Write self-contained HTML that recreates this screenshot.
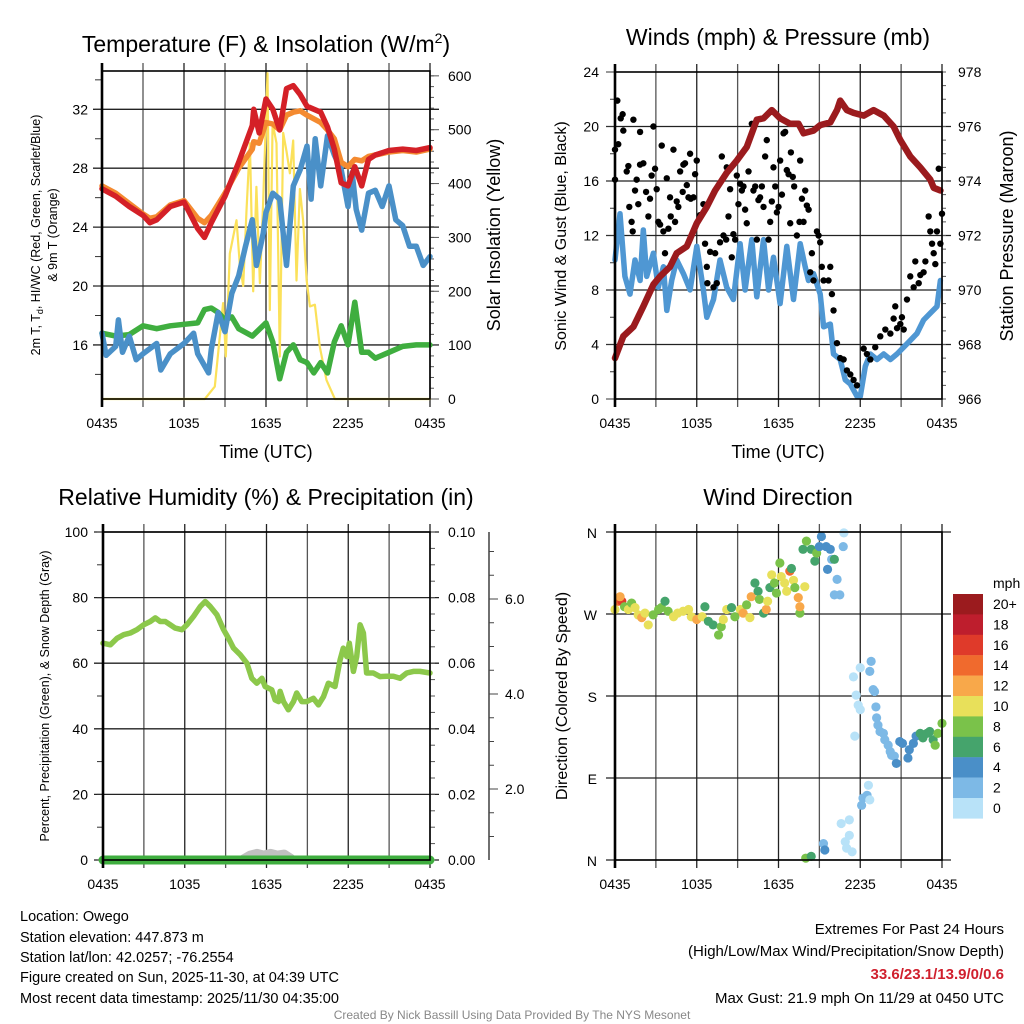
<!DOCTYPE html>
<html><head><meta charset="utf-8"><title>Owego Mesonet Meteogram</title>
<style>
html,body{margin:0;padding:0;background:#fff;}
svg{display:block;font-family:"Liberation Sans",Arial,sans-serif;}
</style></head>
<body>
<svg id="chart" width="1024" height="1024" viewBox="0 0 1024 1024" xmlns="http://www.w3.org/2000/svg">
<rect x="0" y="0" width="1024" height="1024" fill="#fff"/>
<g id="layer"></g>
<text x="266" y="52" font-size="23" text-anchor="middle">Temperature (F) &amp; Insolation (W/m<tspan font-size="14" dy="-9">2</tspan><tspan dy="9">)</tspan></text>
<text x="778" y="45" font-size="23" text-anchor="middle">Winds (mph) &amp; Pressure (mb)</text>
<text x="266" y="505" font-size="23" text-anchor="middle">Relative Humidity (%) &amp; Precipitation (in)</text>
<text x="778" y="505" font-size="23" text-anchor="middle">Wind Direction</text>
<text x="266" y="458" font-size="18" text-anchor="middle">Time (UTC)</text>
<text x="778" y="458" font-size="18" text-anchor="middle">Time (UTC)</text>
<text transform="translate(40,235) rotate(-90)" font-size="12.5" text-anchor="middle">2m T, T<tspan font-size="9" dy="3">d</tspan><tspan dy="-3">, HI/WC (Red, Green, Scarlet/Blue)</tspan></text>
<text transform="translate(57,235) rotate(-90)" font-size="12.5" text-anchor="middle">&amp; 9m T (Orange)</text>
<text transform="translate(500,235) rotate(-90)" font-size="18" text-anchor="middle">Solar Insolation (Yellow)</text>
<text transform="translate(566,236) rotate(-90)" font-size="16" text-anchor="middle">Sonic Wind &amp; Gust (Blue, Black)</text>
<text transform="translate(1013,236) rotate(-90)" font-size="18" text-anchor="middle">Station Pressure (Maroon)</text>
<text transform="translate(49,696) rotate(-90)" font-size="12.5" text-anchor="middle">Percent, Precipitation (Green), &amp; Snow Depth (Gray)</text>
<text transform="translate(567,696) rotate(-90)" font-size="16" text-anchor="middle">Direction (Colored By Speed)</text>
<g font-size="14.5">
<text x="20" y="921">Location: Owego</text>
<text x="20" y="942">Station elevation: 447.873 m</text>
<text x="20" y="962">Station lat/lon: 42.0257; -76.2554</text>
<text x="20" y="982">Figure created on Sun, 2025-11-30, at 04:39 UTC</text>
<text x="20" y="1003">Most recent data timestamp: 2025/11/30 04:35:00</text>
</g>
<g font-size="15" text-anchor="end">
<text x="1004" y="934">Extremes For Past 24 Hours</text>
<text x="1004" y="956">(High/Low/Max Wind/Precipitation/Snow Depth)</text>
<text x="1004" y="979" fill="#d0202e" font-weight="bold">33.6/23.1/13.9/0/0.6</text>
<text x="1004" y="1003">Max Gust: 21.9 mph On 11/29 at 0450 UTC</text>
</g>
<text x="512" y="1019" font-size="12" fill="#888" text-anchor="middle">Created By Nick Bassill Using Data Provided By The NYS Mesonet</text>
</svg>
<script>
const xTickLabels = ["0435","1035","1635","2235","0435"];
const tempHours = [0,1,2,3,3.5,4,5,6,7,7.5,8,9,10,11,11.1,11.5,12,12.5,13,13.5,14,14.5,15,16,16.5,17,17.5,18,18.5,19,19.5,20,21,22,23,24];
const temp2m = [26.6,26.1,25.4,24.8,24.3,24.5,25.4,25.7,23.9,23.3,24.3,26.1,28.4,30.9,32,30.4,32.7,32.0,30.6,33.4,33.6,33.0,32.2,31.8,30.8,29.3,27.0,26.8,28.1,26.8,28.6,28.9,29.2,29.3,29.2,29.4];
const temp9m = [26.8,26.3,25.6,24.9,24.6,24.7,25.5,25.8,24.6,24.3,24.8,26.3,28.0,29.3,29.8,29.7,31.1,31.0,30.6,31.6,31.8,31.9,31.6,31.1,30.6,30.0,28.4,28.1,28.6,28.5,28.8,28.9,29.1,29.2,29.1,29.3];
const dewHours = [0,0.3,1,1.2,1.5,2,2.5,3,4,4.3,5,6,6.7,7,7.8,8,8.5,9,9.5,10,10.5,11,11.3,11.8,12,12.5,13,13.5,14,14.5,15,15.3,15.6,16,16.5,17,17.5,18,18.3,18.6,19,19.5,20,20.5,21,21.5,22,22.5,23,23.5,24];
const dewValues = [16.8,15.3,15.9,17.7,15.5,16.6,15,15.4,16.1,14.3,15.4,16.1,16.8,15.4,14.1,15.7,18.2,16.9,19.5,20.7,22.7,24.5,21.4,23.6,25,26.3,25.9,21.4,26.8,27.9,29.5,25.9,30,26.8,30.2,28.9,27.9,25.4,27.7,25.2,23.8,26.3,26.5,25.4,26.8,24.5,24.1,22.7,22.7,21.4,22];
const wcHours = [0,1,2,3,4,5,6,7,7.5,8,8.5,9,9.5,10,11,12,12.5,13,13.5,14,14.5,15,15.5,16,16.5,17,17.5,18,18.5,19,19.5,20,21,22,23,24];
const wcValues = [16.8,16.6,16.7,17.3,17.1,17.3,17.4,17.5,18.4,18.5,18.2,17.7,17.9,17.1,16.6,17.5,16.2,13.7,15.5,16,15,14.8,14.1,14.8,14.1,16.2,17.3,16,18.9,15.5,15.5,15.1,15.5,15.9,16,16];
const solarHours = [0,7.52,8.25,8.62,8.86,9.06,9.35,9.84,10.08,10.33,10.57,10.82,11.06,11.3,11.55,11.79,12.11,12.28,12.48,12.77,13.01,13.26,13.5,13.75,13.99,14.23,14.48,14.72,14.97,15.21,15.58,15.94,16.43,17.04,24];
const solarValues = [0,0,23,116,178,79,270,332,250,210,350,475,200,394,215,363,605,165,512,475,79,494,460,419,480,220,390,330,221,172,175,97,35,0,0];
const tempTicks = [16,20,24,28,32];
const solarTicks = [0,100,200,300,400,500,600];
const presHours = [0,0.61,1.35,2.08,2.82,3.31,4.04,4.53,5.27,6.0,6.74,7.35,8.2,8.94,9.67,10.41,10.9,11.51,12.12,12.86,13.47,13.84,14.57,15.06,15.8,16.29,16.53,17.02,17.51,18.25,18.98,19.72,20.45,20.94,21.67,22.41,23.14,23.39,23.88];
const presValues = [967.5,968.3,968.65,969.4,970.2,970.5,970.85,971.35,971.6,972.45,973.05,973.65,974.3,974.75,975.25,976.25,976.3,976.6,976.3,976.1,976.1,975.75,975.85,976.05,976.15,976.6,976.95,976.6,976.5,976.4,976.6,976.4,976.0,975.5,974.9,974.5,974.05,973.75,973.65];
const windHours = [0,0.37,0.73,1.1,1.47,1.84,2.08,2.33,2.82,3.18,3.55,3.8,4.16,4.53,5.02,5.51,6.0,6.49,6.74,7.23,7.71,8.2,8.69,9.18,9.55,10.04,10.41,10.9,11.27,11.63,12.12,12.61,13.1,13.59,13.96,14.2,14.57,15.06,15.31,15.8,16.04,16.53,16.9,17.27,17.76,18.0,18.37,18.74,19.23,19.72,20.21,20.7,21.19,21.67,22.16,22.65,23.14,23.63,23.88];
const windValues = [10.2,13.6,9.0,7.7,10.2,8.7,12.4,9.0,10.7,8.2,9.7,6.5,8.7,10.2,9.2,8.0,11.2,8.0,6.0,7.3,10.2,8.2,7.3,11.4,8.0,11.7,7.5,11.7,8.0,10.4,7.0,11.2,7.3,11.4,9.7,8.7,9.2,7.7,5.3,5.5,3.3,2.9,1.4,1.1,0.2,0.2,2.4,3.3,2.9,3.3,2.9,3.3,3.8,4.3,4.8,5.8,6.3,6.8,8.7];
const gustHours = [0,0,0.17,0.24,0.42,0.56,0.61,0.86,0.98,1.05,1.22,1.3,1.35,1.47,1.59,1.71,1.84,1.84,2.08,2.28,2.45,2.57,2.69,2.82,2.94,3.06,3.18,3.31,3.43,3.55,3.67,3.8,3.92,4.04,4.09,4.29,4.41,4.53,4.65,4.78,4.97,5.02,5.14,5.27,5.39,5.51,5.56,5.76,5.88,6.0,6.25,6.49,6.61,6.74,6.78,6.98,7.23,7.35,7.47,7.71,7.84,7.96,8.16,8.2,8.33,8.45,8.57,8.69,8.82,8.94,9.06,9.18,9.31,9.43,9.55,9.67,9.8,10.04,10.16,10.29,10.41,10.53,10.65,10.78,10.9,11.02,11.14,11.27,11.39,11.51,11.63,11.76,11.88,12.0,12.12,12.25,12.37,12.49,12.61,12.74,12.86,12.91,13.05,13.15,13.35,13.54,13.59,13.72,13.84,13.96,14.08,14.21,14.33,14.45,14.57,14.82,14.94,15.06,15.18,15.31,15.67,15.8,15.92,16.04,16.29,16.53,16.78,17.02,17.27,17.51,17.76,18.25,18.49,18.74,19.1,19.47,19.84,20.21,20.45,20.57,20.7,20.94,21.06,21.19,21.43,21.67,21.92,22.04,22.29,22.41,22.65,22.78,23.02,23.14,23.27,23.39,23.51,23.63,23.76,23.88,24.0];
const gustValues = [18.3,16.1,21.9,18.7,20.6,20.9,19.7,16.7,17.1,14.1,13.0,12.3,20.5,15.3,16.1,14.3,19.6,17.2,17.3,15.2,13.4,14.7,16.4,20.0,16.9,15.4,13.0,12.8,18.6,12.3,10.7,16.2,12.5,14.8,13.4,18.3,13.0,14.5,14.1,16.7,15.2,17.2,17.3,15.7,14.8,18.0,14.7,14.8,16.5,17.5,13.5,14.3,11.4,9.7,8.5,10.8,8.2,10.7,8.5,11.5,17.8,12.0,11.7,17.0,13.4,15.4,10.4,12.1,11.7,16.4,14.3,15.8,15.3,15.6,13.9,12.9,16.7,20.2,15.3,15.6,11.7,14.6,14.8,15.6,14.1,17.8,19.0,11.7,13.0,14.5,17.0,15.6,13.7,14.1,17.5,15.0,19.5,19.6,16.8,16.5,12.9,18.1,16.3,15.6,12.0,13.0,17.5,14.7,13.0,15.3,14.2,13.9,9.3,10.7,8.7,12.3,12.0,11.5,9.7,8.7,8.7,9.7,7.7,6.5,4.1,3.0,2.9,2.1,1.8,1.4,1.0,3.7,3.3,2.9,3.8,4.6,5.1,4.8,5.9,6.8,5.2,5.5,6.0,5.1,7.3,9.0,8.2,10.1,8.5,9.1,9.3,10.1,13.4,12.3,11.4,10.7,9.9,12.3,16.9,11.4,13.6];
const windTicks = [0,4,8,12,16,20,24];
const presTicks = [966,968,970,972,974,976,978];
const rhHours = [0,0.54,1.03,1.52,2.0,2.49,2.98,3.47,3.84,4.2,4.57,4.94,5.3,5.79,6.16,6.65,7.14,7.5,7.87,8.36,8.85,9.21,9.58,10.07,10.56,10.92,11.29,11.66,11.9,12.39,12.63,12.88,13.0,13.25,13.61,13.98,14.22,14.59,14.96,15.44,15.81,16.18,16.54,17.03,17.4,17.64,17.89,18.08,18.38,18.62,18.87,19.11,19.35,19.84,20.33,20.82,21.31,21.8,22.29,22.78,23.26,24];
const rhValues = [66.1,65.6,67.6,68.7,69.2,70.2,71.7,72.7,73.8,72.7,72.7,71.7,70.7,70.2,71.7,74.3,77.3,78.8,77.3,74.8,70.2,67.6,64.6,62.6,60.0,55.4,53.9,55.4,52.9,51.9,48.8,48.3,51.4,48.3,45.8,48.3,50.9,48.3,48.3,49.3,47.3,49.8,53.9,52.9,61.0,64.6,62.0,66.1,57.5,62.0,71.7,69.2,57.0,57.0,55.9,56.0,56.0,55.4,57.0,57.5,57.5,57.0];
const precipHours = [0,24];
const precipValues = [0,0];
const snowHours = [10.3,10.8,11.3,11.8,12.3,12.8,13.3,13.8];
const snowValues = [0.3,1.5,2.0,1.5,2.0,1.5,1.8,0.5];
const rhTicks = [0,20,40,60,80,100];
const precipTicks = ["0.00","0.02","0.04","0.06","0.08","0.10"];
const snowTicks = ["2.0","4.0","6.0"];
const dirHours = [0,0.25,0.5,0.37,0.7,0.98,1.22,1.47,1.7,1.96,2.2,2.44,2.8,3.2,3.4,3.67,3.9,4.3,4.6,5.0,5.4,5.6,6.0,6.4,6.6,6.85,7.2,7.6,7.8,7.95,8.2,8.55,8.8,9.2,9.4,9.66,9.9,10.0,10.27,10.5,10.6,10.9,11.1,11.2,11.37,11.5,11.7,11.85,12.1,12.2,12.45,12.6,12.83,12.95,13.1,13.2,13.45,13.57,13.57,13.93,13.8,14.05,14.4,14.67,14.8,15.0,15.15,15.5,15.8,15.9,16.1,15.6,16.3,16.1,16.5,16.75,16.8,14.0,14.4,15.3,15.4,16.6,17.2,16.9,17.0,17.4,17.2,18.1,18.2,18.5,18.6,18.7,17.5,17.7,17.85,18.0,17.6,18.0,18.7,18.8,18.95,19.05,19.15,19.2,19.3,19.45,19.7,19.8,20.05,20.2,20.3,20.5,20.65,20.9,21.1,21.5,21.6,21.9,22.1,22.4,22.6,22.9,23.1,23.35,23.5,23.7,24.0];
const dirDegrees = [275,284,284,289,278,275,282,277,269,266,271,258,269,275,277,284,273,267,271,273,275,267,264,267,278,262,258,247,256,264,275,277,267,275,271,280,266,289,304,295,286,271,275,284,299,313,304,293,326,311,304,295,317,320,307,299,288,271,278,300,341,350,341,328,337,344,355,344,341,330,330,319,308,291,291,344,359,2,4,18,11,40,44,20,13,9,27,60,68,71,82,66,201,181,170,165,136,211,207,218,187,185,168,156,148,141,139,132,126,119,115,114,106,130,128,112,121,128,136,139,134,139,141,132,126,139,150];
const dirSpeeds = [10,14,16,12,8,10,8,10,10,12,10,10,8,8,8,6,8,10,10,10,10,10,12,10,6,6,6,8,8,10,10,6,8,10,12,8,10,12,6,6,8,6,12,10,6,10,8,8,8,10,10,10,14,6,10,8,12,8,12,10,6,8,6,6,8,4,4,4,4,2,6,4,2,2,2,2,0,8,6,2,4,0,0,0,0,0,0,2,2,2,0,0,0,0,0,0,0,0,2,2,2,2,2,2,2,2,2,2,2,2,2,2,4,4,4,4,4,4,4,6,6,6,6,6,8,8,8];
const speedLabels = ["20+","18","16","14","12","10","8","6","4","2","0"];
const speedColors = ["#9b1b1e","#be1e2d","#df3a2a","#f06a2d","#f8a84a","#e8e05a","#7ac24a","#45a46c","#4a8fc8","#7db9e6","#b8e2f8"];
const dirLabels = ["N","E","S","W","N"];
const dirTicks = [0,90,180,270,360];

const NS = "http://www.w3.org/2000/svg";
const layer = document.getElementById("layer");
function mk(tag, attrs, parent){
  const e = document.createElementNS(NS, tag);
  for (const k in attrs) e.setAttribute(k, attrs[k]);
  (parent || layer).appendChild(e);
  return e;
}
const P1 = {l:102,r:430,t:71,b:399};
const P2 = {l:615,r:942,t:72,b:399};
const P3 = {l:103,r:430,t:532,b:860};
const P4 = {l:615,r:942,t:532,b:860};
function xOf(P,h){ return P.l + h/24*(P.r-P.l); }
function lin(P,lo,hi){ return v => P.b - (v-lo)/(hi-lo)*(P.b-P.t); }
const yTemp = lin(P1,12.33,34.6);
const ySolar = lin(P1,0,609);
const yWind = lin(P2,0,24);
const yPres = lin(P2,966,978);
const yRH = lin(P3,0,100);
const yPrecip = lin(P3,0,0.1);
const ySnow = v => 884 - v*47.5;
const yDir = lin(P4,0,360);

function grid(P, name){
  const g = mk("g",{});
  
  
  for (let h=0; h<=24; h+=3){
    const x = xOf(P,h);
    mk("line",{x1:x,x2:x,y1:P.t-8,y2:P.b+8,stroke:(h%6===0)?"#222":"#555","stroke-width":1.3},g);
  }
  for (let i=0;i<xTickLabels.length;i++){
    const t = mk("text",{x:xOf(P,i*6),y:P.b+29,"font-size":14,"text-anchor":"middle"},g);
    t.textContent = xTickLabels[i];
    
    
  }
  return g;
}
function hline(P,y,g,col){ mk("line",{x1:P.l-9,x2:P.r+9,y1:y,y2:y,stroke:col||"#222","stroke-width":1.3},g); }
function frame(P,name){
  const f = mk("rect",{x:P.l,y:P.t,width:P.r-P.l,height:P.b-P.t,fill:"none",stroke:"#000","stroke-width":1.6});
  
  
  mk("line",{x1:P.l,x2:P.l,y1:P.t-8,y2:P.b+8,stroke:"#000","stroke-width":2.6});
}
function leftTicks(P,scale,lo,hi,step,len,g){
  for (let v=lo; v<=hi+1e-9; v+=step){ const y=scale(v); if(y<P.t-1||y>P.b+1) continue; mk("line",{x1:P.l-len,x2:P.l,y1:y,y2:y,stroke:"#333","stroke-width":1},g); }
}
function rightTicks(P,scale,lo,hi,step,len,g){
  for (let v=lo; v<=hi+1e-9; v+=step){ const y=scale(v); if(y<P.t-1||y>P.b+1) continue; mk("line",{x1:P.r,x2:P.r+len,y1:y,y2:y,stroke:"#555","stroke-width":1},g); }
}
function label(x,y,txt,anchor,name,size){
  const t = mk("text",{x:x,y:y,"font-size":size||14,"text-anchor":anchor});
  t.textContent = txt;
  
  
  return t;
}
function pathFrom(xs, ys){ return xs.map((x,i)=>(i?"L":"M")+x.toFixed(1)+","+ys[i].toFixed(1)).join(""); }
function series(P, hours, vals, scale, color, width, name){
  const p = mk("path",{d:pathFrom(hours.map(h=>xOf(P,h)), vals.map(scale)),fill:"none",stroke:color,"stroke-width":width,"stroke-linejoin":"round","stroke-linecap":"round"});
  
  
  return p;
}

{
  const g = grid(P1,'temperature');
  tempTicks.forEach(v=>{ hline(P1,yTemp(v),g); label(P1.l-14,yTemp(v)+5,String(v),"end",'temperature-y-tick-label'); });
  leftTicks(P1,yTemp,14,34,2,7,g);
  solarTicks.forEach(v=>{ label(P1.r+18,ySolar(v)+5,String(v),"start",'insolation-tick-label'); });
  rightTicks(P1,ySolar,0,600,20,4,g);
  rightTicks(P1,ySolar,0,600,100,9,g);
  series(P1,solarHours,solarValues,ySolar,"#fbe15a",2.2,'insolation-line');
  series(P1,wcHours,wcValues,yTemp,"#3fae3f",5.5,'heat-index-windchill-line');
  series(P1,dewHours,dewValues,yTemp,"#4a90c8",5.5,'dewpoint-line');
  series(P1,tempHours,temp9m,yTemp,"#f48a30",5.5,'temperature-9m-line');
  series(P1,tempHours,temp2m,yTemp,"#d42027",5.5,'temperature-2m-line');
  frame(P1,'temperature');
}
{
  const g = grid(P2,'winds');
  windTicks.forEach(v=>{ if(v>0&&v<24) hline(P2,yWind(v),g); label(P2.l-16,yWind(v)+5,String(v),"end",'wind-y-tick-label'); });
  leftTicks(P2,yWind,0,24,2,5,g);
  leftTicks(P2,yWind,0,24,4,9,g);
  presTicks.forEach(v=>{ label(P2.r+16,yPres(v)+5,String(v),"start",'pressure-tick-label'); });
  rightTicks(P2,yPres,966,978,0.5,4,g);
  series(P2,windHours,windValues,yWind,"#4f97d3",5.5,'sonic-wind-line');
  const gg = mk("g",{});
  
  
  for (let i=0;i<gustHours.length;i++){
    const c = mk("circle",{cx:xOf(P2,gustHours[i]),cy:yWind(gustValues[i]),r:3.2,fill:"#000"},gg);
    
    
  }
  series(P2,presHours,presValues,yPres,"#9b1b1e",6.5,'pressure-line');
  frame(P2,'winds');
}
{
  const g = grid(P3,'humidity');
  rhTicks.forEach((v,i)=>{ hline(P3,yRH(v),g); label(P3.l-15,yRH(v)+5,String(v),"end",'humidity-y-tick-label'); label(P3.r+18,yPrecip(Number(precipTicks[i]))+5,precipTicks[i],"start",'precip-tick-label'); });
  leftTicks(P3,yRH,0,100,10,6,g);
  rightTicks(P3,yPrecip,0,0.1,0.005,5,g);
  const sa = mk("line",{x1:489,x2:489,y1:P3.t,y2:P3.b,stroke:"#222","stroke-width":1.3});
  
  
  for (let v=0.5; v<=7.01; v+=0.5){ const y=ySnow(v); if(y>P3.b||y<P3.t) continue; mk("line",{x1:489,x2:489+(v%2===0?9:5),y1:y,y2:y,stroke:"#444","stroke-width":1}); }
  snowTicks.forEach(s=>label(505,ySnow(Number(s))+5,s,"start",'snow-depth-tick-label'));
  series(P3,snowHours,snowValues,yRH,"#c0c0c0",9,'snow-depth-line');
  series(P3,rhHours,rhValues,yRH,"#8cc84b",5.5,'relative-humidity-line');
  series(P3,precipHours,precipValues,yPrecip,"#3fae3f",9,'precipitation-line');
  frame(P3,'humidity');
}
{
  const g = grid(P4,'wind-direction');
  dirTicks.forEach((v,i)=>{ hline(P4,yDir(v),g); label(P4.l-18,yDir(v)+6,dirLabels[i],"end",'direction-tick-label'); });
  const gd = mk("g",{});
  
  
  const n = Math.min(dirHours.length, dirDegrees.length);
  for (let i=0;i<n;i++){
    const s = (dirSpeeds[i] === undefined) ? 4 : dirSpeeds[i];
    const idx = Math.max(0, Math.min(10, 10 - Math.floor(s/2)));
    const c = mk("circle",{cx:xOf(P4,dirHours[i]),cy:yDir(dirDegrees[i]),r:4.6,fill:speedColors[idx]},gd);
    
    
  }
  frame(P4,'wind-direction');
  const cb = mk("g",{});
  
  
  label(993,588,"mph","start",'colorbar-title',14);
  for (let i=0;i<speedColors.length;i++){
    const r = mk("rect",{x:953,y:594+i*20.4,width:30,height:20.6,fill:speedColors[i]},cb);
    
    
    label(993,594+i*20.4+15,speedLabels[i],"start",'colorbar-label',14);
  }
}
</script>
</body></html>
